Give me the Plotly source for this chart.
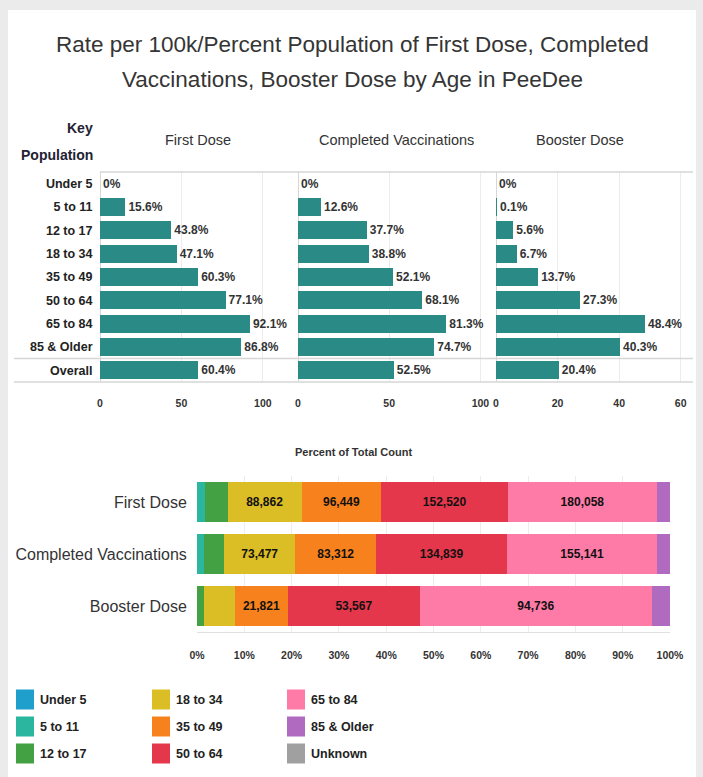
import plotly.graph_objects as go

W, H = 703, 777

# ---------------- data ----------------
age_groups = ["Under 5", "5 to 11", "12 to 17", "18 to 34", "35 to 49",
              "50 to 64", "65 to 84", "85 & Older", "Overall"]
first_dose_rate = [0, 15.6, 43.8, 47.1, 60.3, 77.1, 92.1, 86.8, 60.4]
completed_rate = [0, 12.6, 37.7, 38.8, 52.1, 68.1, 81.3, 74.7, 52.5]
booster_rate = [0, 0.1, 5.6, 6.7, 13.7, 27.3, 48.4, 40.3, 20.4]

dose_types = ["First Dose", "Completed Vaccinations", "Booster Dose"]
legend_groups = ["Under 5", "5 to 11", "12 to 17", "18 to 34", "35 to 49",
                 "50 to 64", "65 to 84", "85 & Older", "Unknown"]
first_dose_counts = [30, 9600, 27600, 88862, 96449, 152520, 180058, 15600, 0]
completed_counts = [20, 7000, 21000, 73477, 83312, 134839, 155141, 13000, 0]
booster_counts = [0, 50, 2800, 12500, 21821, 53567, 94736, 7300, 0]
group_colors = ["#1f9fcc", "#2bb69f", "#43a043", "#dbbd26", "#f7821d",
                "#e5374b", "#ff7ba7", "#b06bc0", "#a0a0a0"]

pct_ticks = [0, 10, 20, 30, 40, 50, 60, 70, 80, 90, 100]
pct_tick_labels = [f"{t}%" for t in pct_ticks]

title_lines = ["Rate per 100k/Percent Population of First Dose, Completed",
               "Vaccinations, Booster Dose by Age in PeeDee"]

# ---------------- helpers ----------------
def px(x):
    return x / W

def py(y):
    return 1 - y / H

FONT = "Liberation Sans, Arial, sans-serif"
DARK = "#333333"
BAR = "#2a8a86"

fig = go.Figure()

# ---------------- top chart ----------------
def lab(v):
    return "0%" if v == 0 else f"{v:.1f}%"

for i, (vals, xa) in enumerate([(first_dose_rate, "x"), (completed_rate, "x2"),
                               (booster_rate, "x3")]):
    fig.add_trace(go.Bar(
        x=vals, y=age_groups, orientation="h", xaxis=xa, yaxis="y",
        marker=dict(color=BAR, line=dict(width=0)),
        text=[lab(v) for v in vals], textposition="outside",
        textfont=dict(family=FONT, size=12, color=DARK, weight="bold"),
        cliponaxis=False, showlegend=False, hoverinfo="x+y",
    ))

# ---------------- bottom chart ----------------
all_counts = [first_dose_counts, completed_counts, booster_counts]
totals = [sum(c) for c in all_counts]
for g, name in enumerate(legend_groups):
    xs, txt = [], []
    for d in range(3):
        c = all_counts[d][g]
        p = c / totals[d] * 100
        xs.append(p)
        txt.append(f"{c:,}" if p > 8 else "")
    fig.add_trace(go.Bar(
        x=xs, y=dose_types, orientation="h", xaxis="x4", yaxis="y4",
        name=name, marker=dict(color=group_colors[g], line=dict(width=0)),
        text=txt, textposition="inside", insidetextanchor="middle",
        textangle=0, constraintext="none",
        textfont=dict(family=FONT, size=12, color="#111111", weight="bold"),
        showlegend=False,
    ))

# ---------------- axes ----------------
top_y0, top_y1 = 172, 382
panels = [(100, 297, [0, 121], [0, 50, 100]),
          (298, 495, [0, 108], [0, 50, 100]),
          (496, 693, [0, 64], [0, 20, 40, 60])]
axis_tick_font = dict(family=FONT, size=10.5, color=DARK, weight="bold")
for i, (a, b, rng, tv) in enumerate(panels):
    key = "xaxis" if i == 0 else f"xaxis{i+1}"
    fig.layout[key] = dict(
        domain=[px(a), px(b)], anchor="y", range=rng, automargin=False,
        tickmode="array", tickvals=tv, ticktext=[str(t) for t in tv],
        showgrid=True, gridcolor="#ececec", gridwidth=1,
        zeroline=True, zerolinecolor="#d6d6d6", zerolinewidth=1,
        ticks="outside", ticklen=11, tickcolor="rgba(0,0,0,0)",
        tickfont=axis_tick_font, fixedrange=True,
    )

fig.layout["yaxis"] = dict(
    domain=[py(top_y1), py(top_y0)], anchor="x", automargin=False,
    categoryorder="array", categoryarray=age_groups,
    range=[8.5, -0.5], showgrid=False, zeroline=False,
    tickfont=dict(family=FONT, size=12.5, color="#222222", weight="bold"),
    ticks="outside", ticklen=4, tickcolor="rgba(0,0,0,0)",
)

bot_y0, bot_y1 = 476, 632
fig.layout["xaxis4"] = dict(
    domain=[px(197), px(670)], anchor="y4", range=[0, 100], automargin=False,
    tickmode="array", tickvals=pct_ticks, ticktext=pct_tick_labels,
    showgrid=True, gridcolor="#ececec", zeroline=False,
    showline=True, linecolor="#e0e0e0",
    ticks="outside", ticklen=13, tickcolor="rgba(0,0,0,0)",
    tickfont=dict(family=FONT, size=10.5, color=DARK, weight="bold"),
)
fig.layout["yaxis4"] = dict(
    domain=[py(bot_y1), py(bot_y0)], anchor="x4", automargin=False,
    categoryorder="array", categoryarray=dose_types,
    range=[2.5, -0.5], showgrid=False, zeroline=False,
    tickfont=dict(family=FONT, size=16, color=DARK),
    ticks="outside", ticklen=6, tickcolor="rgba(0,0,0,0)",
)

# ---------------- shapes ----------------
shapes = [
    dict(type="rect", xref="paper", yref="paper", x0=px(8), x1=px(696),
         y0=0, y1=py(10), fillcolor="white", line=dict(width=0), layer="below"),
    dict(type="line", xref="paper", yref="paper", x0=px(100), x1=px(693),
         y0=py(172), y1=py(172), line=dict(color="#d6d6d6", width=1.5)),
    dict(type="line", xref="paper", yref="paper", x0=px(14), x1=px(693),
         y0=py(358.5), y1=py(358.5), line=dict(color="#d6d6d6", width=1.5)),
    dict(type="line", xref="paper", yref="paper", x0=px(14), x1=px(693),
         y0=py(382), y1=py(382), line=dict(color="#d6d6d6", width=1.5)),
]

annotations = []
for line, ty in zip(title_lines, [45, 80]):
    annotations.append(dict(text=line, x=px(352), y=py(ty), xref="paper",
                            yref="paper", showarrow=False, xanchor="center",
                            yanchor="middle",
                            font=dict(family=FONT, size=22.5, color="#353535")))
annotations += [
    dict(text="Key", x=px(95), y=py(128), xref="paper", yref="paper",
         showarrow=False, xanchor="right", yanchor="middle",
         font=dict(family=FONT, size=14, color="#222233", weight="bold")),
    dict(text="Population", x=px(95), y=py(155), xref="paper", yref="paper",
         showarrow=False, xanchor="right", yanchor="middle",
         font=dict(family=FONT, size=14, color="#222233", weight="bold")),
    dict(text="Percent of Total Count", x=px(353), y=py(452), xref="paper",
         yref="paper", showarrow=False, xanchor="center", yanchor="middle",
         font=dict(family=FONT, size=11, color=DARK, weight="bold")),
]
header_x = [198, 396, 580]
for name, hx in zip(dose_types, header_x):
    annotations.append(dict(text=name, x=px(hx), y=py(140), xref="paper",
                            yref="paper", showarrow=False, xanchor="center",
                            yanchor="middle",
                            font=dict(family=FONT, size=14.5, color=DARK)))

# legend (3 columns, column-major order)
col_x = [16, 152, 287]
row_y = [699.5, 726.5, 753.5]
for g, name in enumerate(legend_groups):
    cx = col_x[g // 3]
    cy = row_y[g % 3]
    shapes.append(dict(type="rect", xref="paper", yref="paper",
                       x0=px(cx), x1=px(cx + 18), y0=py(cy + 10), y1=py(cy - 10),
                       fillcolor=group_colors[g], line=dict(width=0)))
    annotations.append(dict(text=name, x=px(cx + 22), y=py(cy), xref="paper",
                            yref="paper", showarrow=False, xanchor="left",
                            yanchor="middle",
                            font=dict(family=FONT, size=12.5, color="#222222",
                                      weight="bold")))

fig.update_layout(
    width=W, height=H, autosize=False, margin=dict(l=0, r=0, t=0, b=0, pad=0),
    paper_bgcolor="#ebebeb", plot_bgcolor="white",
    barmode="stack", bargap=0.24, showlegend=False,
    shapes=shapes, annotations=annotations,
    font=dict(family=FONT, color=DARK),
    uniformtext=dict(minsize=8, mode="show"),
)

fig.write_html(
    "out.html",
    config=dict(displayModeBar=False, responsive=False),
    post_script="document.documentElement.style.overflow='hidden';"
                "document.body.style.overflow='hidden';"
                "document.body.style.margin='0px';"
                "document.body.style.padding='0px';"
                "document.body.style.background='#ebebeb';",
)
